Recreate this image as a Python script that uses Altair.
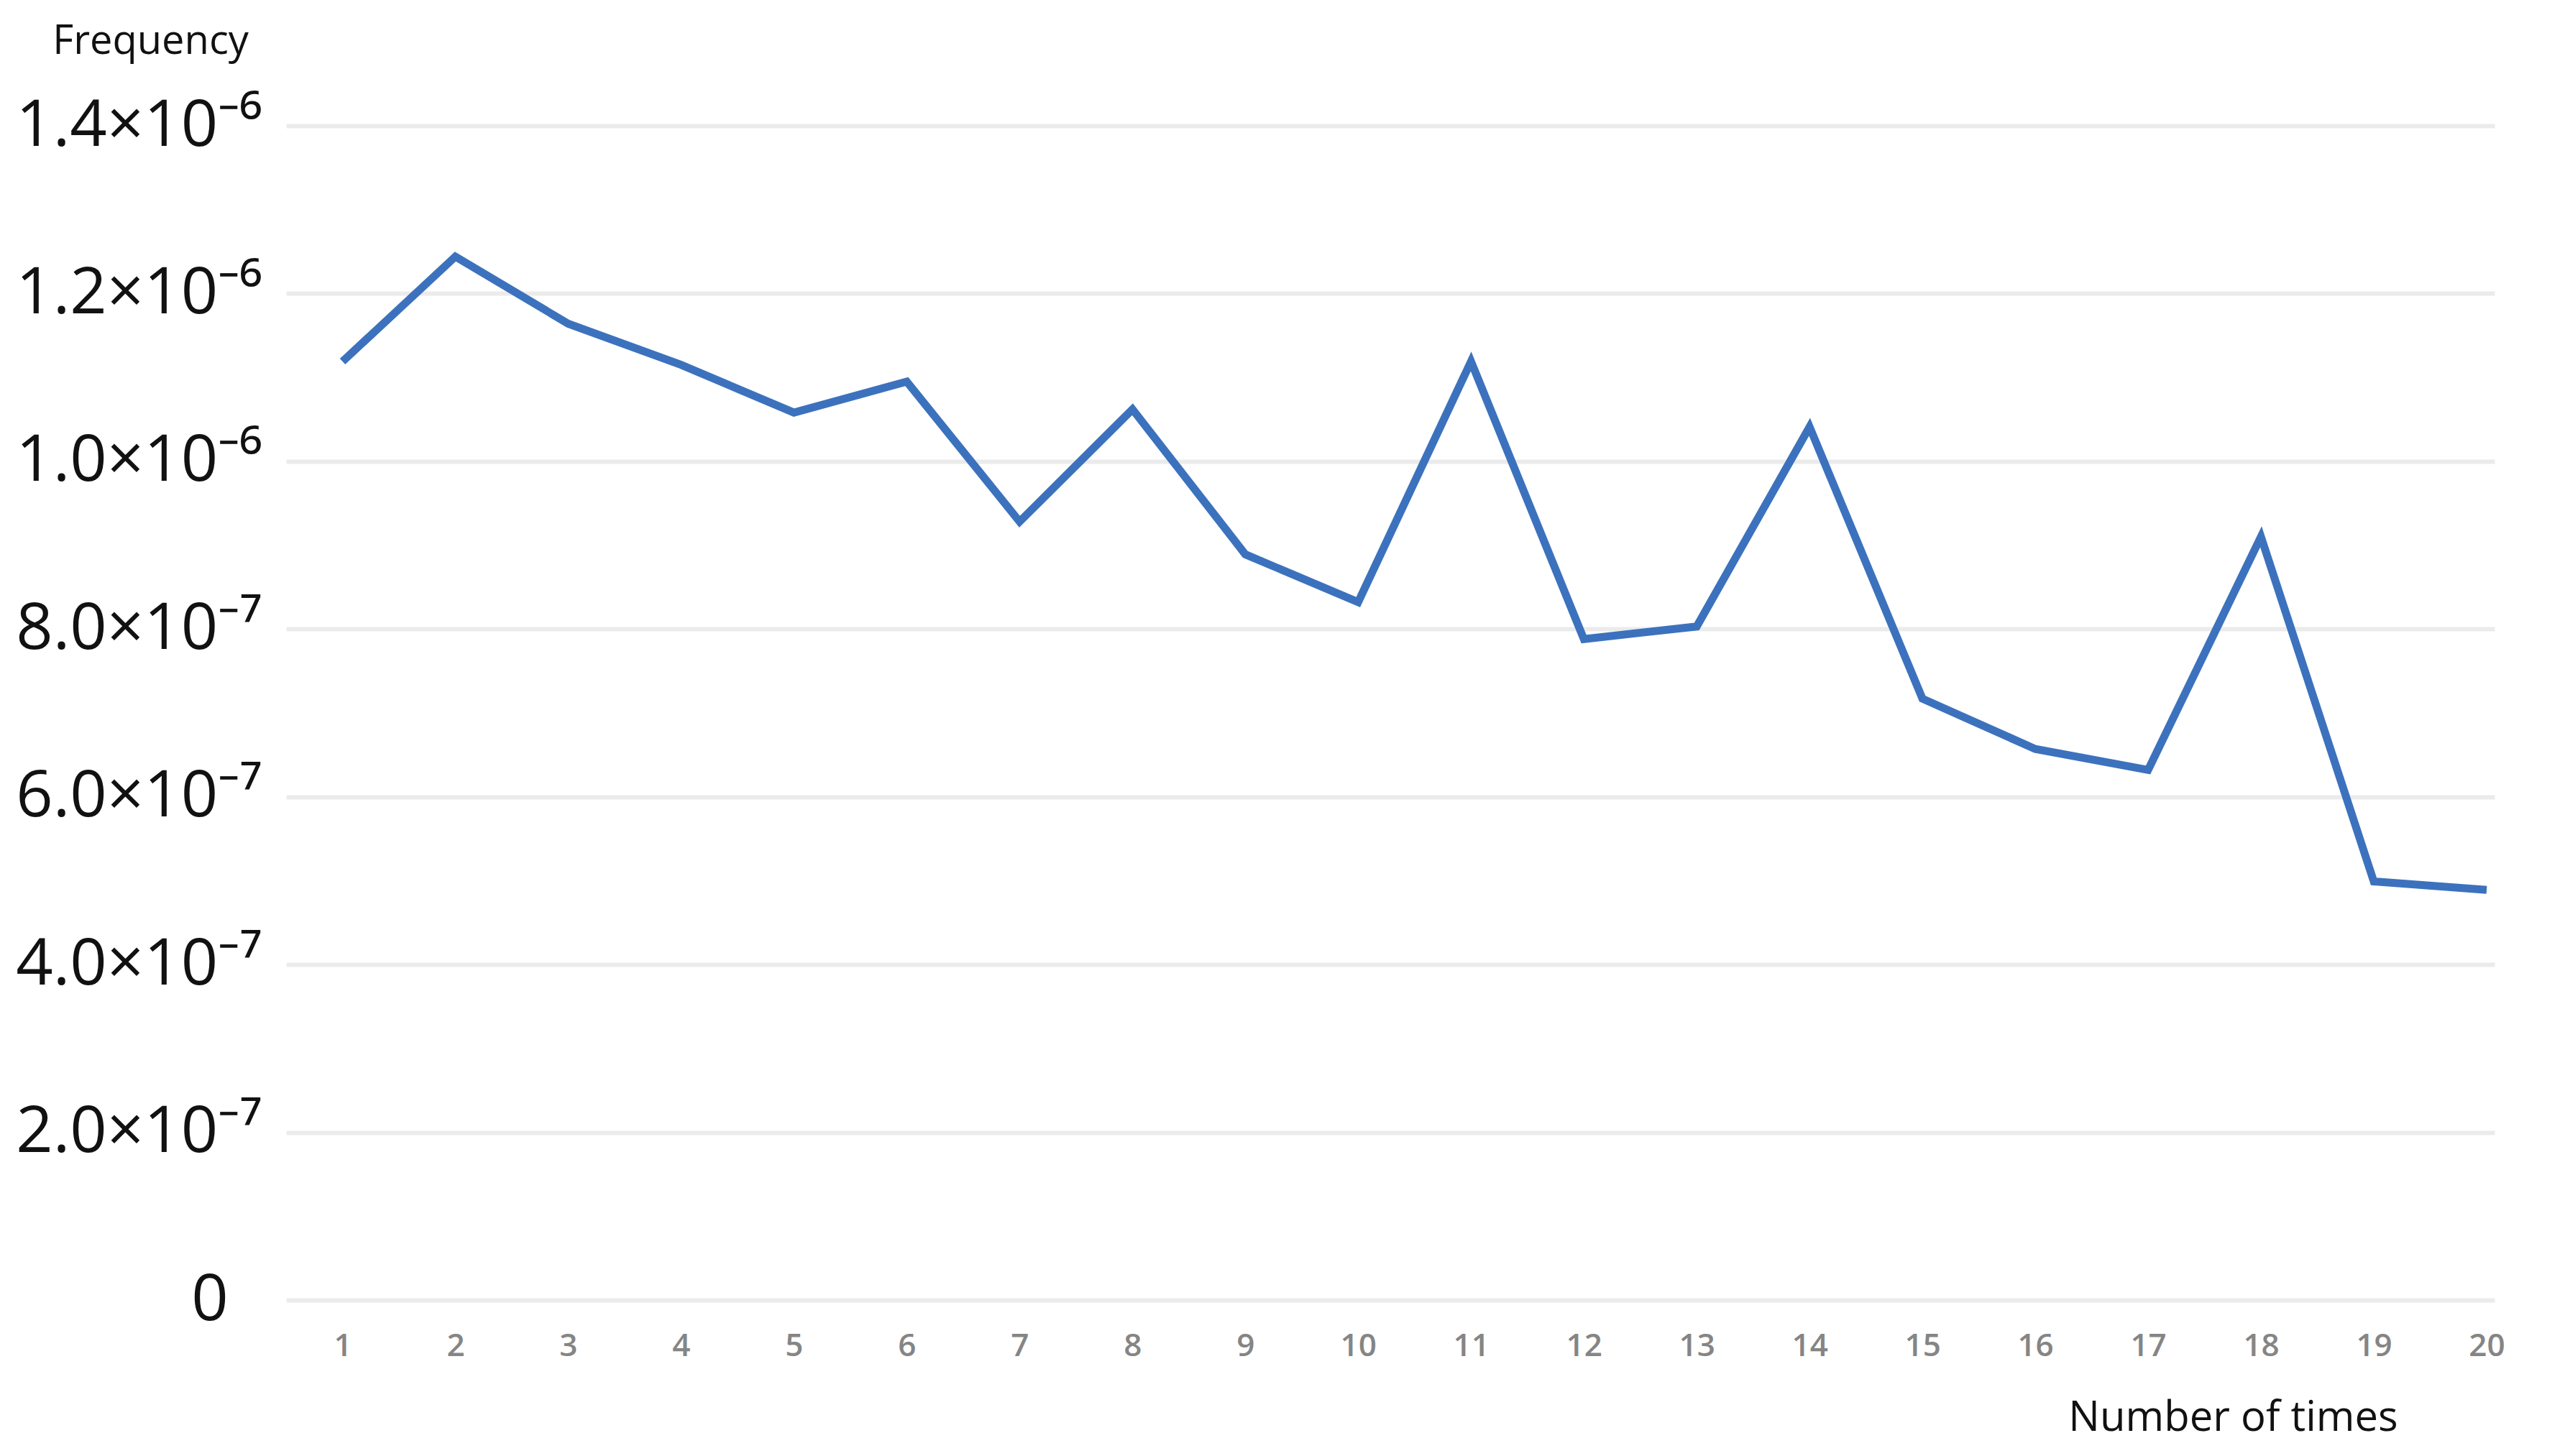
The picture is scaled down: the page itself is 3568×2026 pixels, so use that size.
import altair as alt
import pandas as pd

# Data
times = list(range(1, 21))
frequency = [1.119e-6, 1.244e-6, 1.164e-6, 1.115e-6, 1.058e-6, 1.095e-6, 0.928e-6, 1.062e-6,
             0.889e-6, 0.832e-6, 1.119e-6, 0.788e-6, 0.803e-6, 1.041e-6, 0.717e-6, 0.657e-6,
             0.632e-6, 0.910e-6, 0.499e-6, 0.489e-6]

y_tick_values = [0, 2e-7, 4e-7, 6e-7, 8e-7, 1.0e-6, 1.2e-6, 1.4e-6]
y_tick_labels = ["0\u00a0\u00a0\u2060", "2.0×10⁻⁷", "4.0×10⁻⁷", "6.0×10⁻⁷", "8.0×10⁻⁷",
                 "1.0×10⁻⁶", "1.2×10⁻⁶", "1.4×10⁻⁶"]

df = pd.DataFrame({"times": times, "frequency": frequency})

# label expression built from the tick arrays
expr = "''"
for v, lab in reversed(list(zip(y_tick_values, y_tick_labels))):
    expr = f"(abs(datum.value - {v!r}) < 1e-10 ? '{lab}' : {expr})"

FONT = "Open Sans"

chart = alt.Chart(df).mark_line(color="#3c72bd", strokeWidth=11, strokeJoin="miter").encode(
    x=alt.X("times:Q",
            scale=alt.Scale(domain=[0.5, 20.07], nice=False, zero=False),
            axis=alt.Axis(values=times, format="d", grid=False,
                          ticks=False, domain=False,
                          labelFont=FONT, labelFontSize=44, labelColor="#858585",
                          labelPadding=42, labelFontWeight=600,
                          title="Number of times", titleFont=FONT, titleFontSize=58,
                          titleFontWeight="normal", titleColor="#111111",
                          titleX=2708, titleY=164, titleAlign="center",
                          titleBaseline="middle")),
    y=alt.Y("frequency:Q",
            scale=alt.Scale(domain=[0, 1.4e-6], nice=False),
            axis=alt.Axis(values=y_tick_values, labelExpr=expr, grid=True,
                          gridColor="#ebebeb", gridWidth=6, ticks=False, domain=False,
                          labelFont=FONT, labelFontSize=90, labelColor="#111111",
                          labelPadding=34, labelBaseline="middle", labelLimit=1000,
                          title="Frequency", titleFont=FONT, titleFontSize=56,
                          titleFontWeight="normal", titleColor="#111111",
                          titleAngle=0, titleX=-189, titleY=-118, titleAlign="center",
                          titleBaseline="middle")),
).properties(
    width=3072,
    height=1634,
    background="white",
    autosize=alt.AutoSizeParams(type="none"),
    padding={"left": 390, "top": 167, "right": 90, "bottom": 209},
).configure_view(stroke=None, strokeWidth=0)

chart.save("out.html", embed_options={"renderer": "svg", "actions": False})
